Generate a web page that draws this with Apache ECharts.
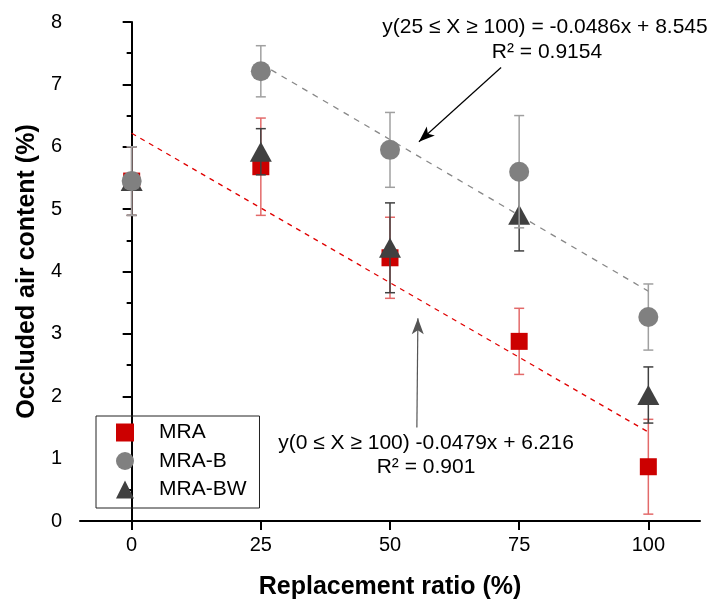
<!DOCTYPE html>
<html>
<head>
<meta charset="utf-8">
<script src="https://cdn.jsdelivr.net/npm/echarts@6/dist/echarts.min.js"></script>
<style>html,body{margin:0;padding:0;background:#fff}#c{width:717px;height:608px}</style>
</head>
<body>
<div id="c"></div>
<script>
// ---- data ----
var ratios = [0, 25, 50, 75, 100];
var xTicks = [0, 25, 50, 75, 100];
var mraVals = [5.45, 5.68, 4.22, 2.88, 0.87];
var mraErr = [0.55, 0.78, 0.65, 0.53, 0.76];
var mraBVals = [5.45, 7.21, 5.95, 5.60, 3.27];
var mraBErr = [0.55, 0.41, 0.60, 0.90, 0.53];
var mraBWVals = [5.45, 5.92, 4.38, 4.91, 2.02];
var mraBWErr = [0.55, 0.37, 0.72, 0.58, 0.45];
// fitted lines (endpoints from the reported equations)
var fitAll = [[0, 6.216], [100, 1.426]];
var fitB = [[25, 7.33], [100, 3.685]];
var eqB = ['y(25 \u2264 X \u2265 100) = -0.0486x + 8.545', 'R\u00B2 = 0.9154'];
var eqAll = ['y(0 \u2264 X \u2265 100) -0.0479x + 6.216', 'R\u00B2 = 0.901'];
var arrowB = [[71.5, 7.27], [55.6, 6.08]];
var arrowAll = [[55.2, 1.50], [55.4, 3.25]];

var FONT = '"Liberation Sans", Arial, sans-serif';

function pts(vals) { return ratios.map(function (x, i) { return [x, vals[i]]; }); }
function errData(vals, errs) { return ratios.map(function (x, i) { return [x, vals[i], errs[i]]; }); }

function errSeries(name, vals, errs, color, z) {
  return {
    type: 'custom', name: name + '_err', z: z, silent: true,
    data: errData(vals, errs),
    encode: { x: 0, y: 1 },
    renderItem: function (params, api) {
      var x = api.value(0), y = api.value(1), e = api.value(2);
      var top = api.coord([x, y + e]);
      var bot = api.coord([x, y - e]);
      var w = 5;
      var st = { stroke: color, lineWidth: 1.5 };
      return {
        type: 'group', children: [
          { type: 'line', shape: { x1: top[0], y1: top[1], x2: bot[0], y2: bot[1] }, style: st },
          { type: 'line', shape: { x1: top[0] - w, y1: top[1], x2: top[0] + w, y2: top[1] }, style: st },
          { type: 'line', shape: { x1: bot[0] - w, y1: bot[1], x2: bot[0] + w, y2: bot[1] }, style: st }
        ]
      };
    }
  };
}

var chart = echarts.init(document.getElementById('c'), null, { renderer: 'canvas' });
var option = {
  animation: false,
  backgroundColor: '#fff',
  textStyle: { fontFamily: FONT },
  grid: { left: 80, right: 17, top: 22, bottom: 87 },
  xAxis: {
    type: 'value', min: -10, max: 110,
    name: 'Replacement ratio (%)', nameLocation: 'middle', nameGap: 54,
    nameTextStyle: { fontSize: 25, fontWeight: 'bold', color: '#000', fontFamily: FONT },
    axisLine: { lineStyle: { color: '#000', width: 2 } },
    axisTick: { show: true, inside: false, length: 9, lineStyle: { color: '#000', width: 2 }, customValues: xTicks },
    axisLabel: { color: '#000', fontSize: 20, margin: 14, fontFamily: FONT, customValues: xTicks },
    splitLine: { show: false }
  },
  yAxis: {
    type: 'value', min: 0, max: 8, interval: 1,
    name: 'Occluded air content (%)', nameLocation: 'middle', nameGap: 40,
    nameTextStyle: { fontSize: 25, fontWeight: 'bold', color: '#000', fontFamily: FONT },
    axisLine: { show: true, lineStyle: { color: '#000', width: 2 } },
    axisTick: { show: true, inside: false, length: 9, lineStyle: { color: '#000', width: 2 } },
    minorTick: { show: true, splitNumber: 2, length: 5, lineStyle: { color: '#000', width: 2 } },
    axisLabel: { color: '#000', fontSize: 20, margin: 18, fontFamily: FONT },
    splitLine: { show: false }
  },
  legend: {
    orient: 'vertical', left: 96, top: 416,
    borderColor: '#222', borderWidth: 1, borderRadius: 0,
    padding: [6, 13, 8, 20], itemGap: 7.5, itemWidth: 18, itemHeight: 18,
    itemStyle: { borderWidth: 0 },
    lineStyle: { width: 0, opacity: 0 },
    textStyle: { fontSize: 21, color: '#000', fontFamily: FONT, lineHeight: 20, padding: [0, 0, 0, 20] },
    data: [
      { name: 'MRA', icon: 'rect' },
      { name: 'MRA-B', icon: 'circle' },
      { name: 'MRA-BW', icon: 'triangle' }
    ]
  },
  series: [
    {
      type: 'line', name: 'fitAll', data: fitAll, showSymbol: false, silent: true, z: 1,
      lineStyle: { color: '#E00000', width: 1.3, type: [5, 5] }
    },
    {
      type: 'line', name: 'fitB', data: fitB, showSymbol: false, silent: true, z: 1,
      lineStyle: { color: '#888', width: 1.3, type: [6, 6] },
      markLine: {
        silent: true, symbol: ['none', 'arrow'], symbolSize: [9, 16],
        label: { show: false },
        lineStyle: { color: '#000', width: 1.2, type: 'solid' },
        data: [
          [{ coord: arrowB[0] }, { coord: arrowB[1] }],
          [{ coord: arrowAll[0], lineStyle: { color: '#555' } }, { coord: arrowAll[1] }]
        ]
      }
    },
    errSeries('MRA', mraVals, mraErr, '#E36A6A', 2),
    {
      type: 'scatter', name: 'MRA', data: pts(mraVals), symbol: 'rect', symbolSize: 17, z: 3,
      itemStyle: { color: '#CC0000', opacity: 1 }
    },
    errSeries('MRA-BW', mraBWVals, mraBWErr, '#404040', 4),
    {
      type: 'scatter', name: 'MRA-BW', data: pts(mraBWVals), symbol: 'triangle', symbolSize: [22, 20], z: 5,
      itemStyle: { color: '#404040', opacity: 1 }
    },
    errSeries('MRA-B', mraBVals, mraBErr, '#A0A0A0', 6),
    {
      type: 'scatter', name: 'MRA-B', data: pts(mraBVals), symbol: 'circle', symbolSize: 20, z: 7,
      itemStyle: { color: '#808080', opacity: 1 }
    }
  ],
  graphic: [
    { type: 'text', x: 545, y: 27, style: { text: eqB[0], font: '21px ' + FONT, fill: '#000', textAlign: 'center', textVerticalAlign: 'middle' } },
    { type: 'text', x: 547, y: 52, style: { text: eqB[1], font: '21px ' + FONT, fill: '#000', textAlign: 'center', textVerticalAlign: 'middle' } },
    { type: 'text', x: 426, y: 443, style: { text: eqAll[0], font: '21px ' + FONT, fill: '#000', textAlign: 'center', textVerticalAlign: 'middle' } },
    { type: 'text', x: 426, y: 467, style: { text: eqAll[1], font: '21px ' + FONT, fill: '#000', textAlign: 'center', textVerticalAlign: 'middle' } }
  ]
};
chart.setOption(option);
</script>
</body>
</html>
